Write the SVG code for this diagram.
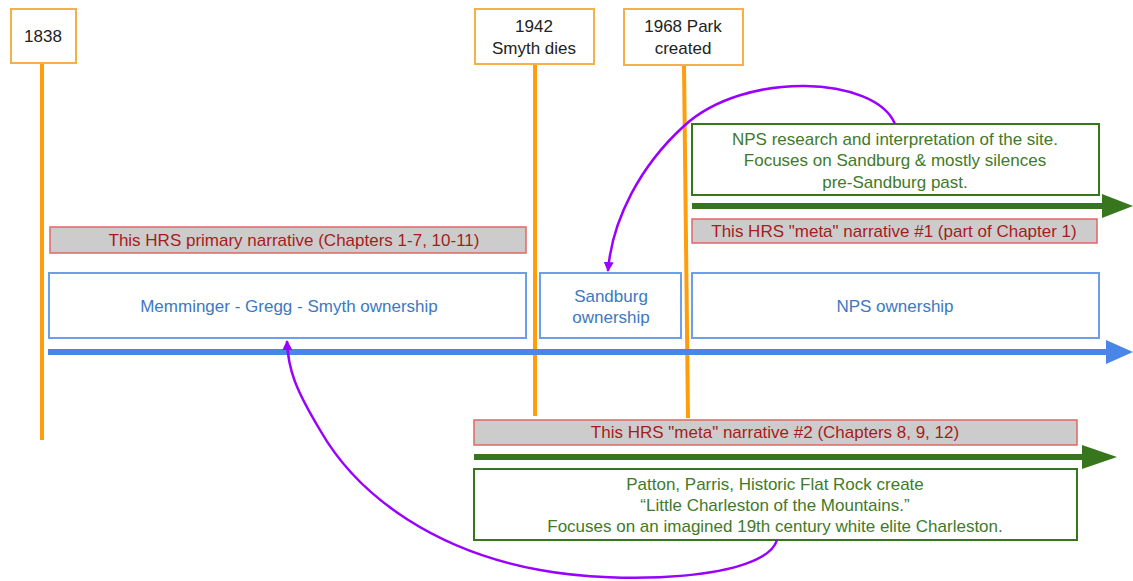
<svg xmlns="http://www.w3.org/2000/svg" width="1133" height="581" viewBox="0 0 1133 581">
<defs>
<style>
text{font-family:"Liberation Sans",Arial,sans-serif;font-size:17px;text-anchor:middle}
.yr{fill:#fff;stroke:#f6b04a;stroke-width:2}
.yt{fill:#222}
.vl{stroke:#ff9d0a;stroke-width:4}
.own{fill:#fff;stroke:#6d9eeb;stroke-width:2}
.ot{fill:#3d78c2}
.nar{fill:#cccccc;stroke:#e06666;stroke-width:1.5}
.nt{fill:#a61c1c}
.gb{fill:#fff;stroke:#38761d;stroke-width:2}
.gt{fill:#3f7a2a}
.pc{fill:none;stroke:#9900ff;stroke-width:2.5}
</style>
<marker id="ap" viewBox="0 0 10 10" refX="9" refY="5" markerWidth="4" markerHeight="4" orient="auto-start-reverse"><path d="M0,0L10,5L0,10z" fill="#9900ff"/></marker>
</defs>
<rect width="1133" height="581" fill="#fff"/>
<g id="connectors">
<line class="vl" x1="42" y1="63" x2="42" y2="440"/>
<line class="vl" x1="535" y1="64" x2="535" y2="416"/>
<line class="vl" x1="684" y1="65" x2="688" y2="418"/>
<line x1="48" y1="352" x2="1108" y2="352" stroke="#4a86e8" stroke-width="6"/>
<path d="M1106,340L1133,352L1106,364z" fill="#4a86e8"/>
<line x1="692" y1="206" x2="1104" y2="206" stroke="#38761d" stroke-width="6"/>
<path d="M1102,194L1133,206L1102,218z" fill="#38761d"/>
<line x1="474" y1="457" x2="1084" y2="457" stroke="#38761d" stroke-width="6"/>
<path d="M1082,445L1117,457L1082,469z" fill="#38761d"/>
</g>
<g id="y1838"><rect class="yr" x="11" y="9" width="65" height="54"/><text class="yt" x="43" y="42">1838</text></g>
<g id="y1942"><rect class="yr" x="475" y="9" width="119" height="55"/><text class="yt" x="534" y="32">1942</text><text class="yt" x="534" y="54">Smyth dies</text></g>
<g id="y1968"><rect class="yr" x="624" y="9" width="119" height="56"/><text class="yt" x="683" y="32">1968 Park</text><text class="yt" x="683" y="54">created</text></g>
<g id="npsResearch"><rect class="gb" x="692" y="124" width="407" height="71"/><text class="gt" x="895" y="145">NPS research and interpretation of the site.</text><text class="gt" x="895" y="166">Focuses on Sandburg &amp; mostly silences</text><text class="gt" x="895" y="188">pre-Sandburg past.</text></g>
<g id="meta1"><rect class="nar" x="692" y="219" width="405" height="24"/><text class="nt" x="894" y="237">This HRS "meta" narrative #1 (part of Chapter 1)</text></g>
<g id="primary"><rect class="nar" x="50" y="227" width="476" height="26"/><text class="nt" x="294" y="246">This HRS primary narrative (Chapters 1-7, 10-11)</text></g>
<g id="memminger"><rect class="own" x="49" y="273" width="477" height="65"/><text class="ot" x="289" y="312">Memminger - Gregg - Smyth ownership</text></g>
<g id="sandburg"><rect class="own" x="540" y="273" width="141" height="65"/><text class="ot" x="611" y="302">Sandburg</text><text class="ot" x="611" y="323">ownership</text></g>
<g id="npsOwn"><rect class="own" x="692" y="273" width="407" height="65"/><text class="ot" x="895" y="312">NPS ownership</text></g>
<g id="meta2"><rect class="nar" x="474" y="420" width="603" height="25"/><text class="nt" x="775" y="438">This HRS "meta" narrative #2 (Chapters 8, 9, 12)</text></g>
<g id="patton"><rect class="gb" x="474" y="469" width="603" height="71"/><text class="gt" x="775" y="490">Patton, Parris, Historic Flat Rock create</text><text class="gt" x="775" y="511">“Little Charleston of the Mountains.”</text><text class="gt" x="775" y="532">Focuses on an imagined 19th century white elite Charleston.</text></g>
<g id="curves">
<path class="pc" marker-end="url(#ap)" d="M895,124C875,76 745,70 684,126C640,166 612,220 608,271"/>
<path class="pc" marker-end="url(#ap)" d="M777,540C765,580 620,585 540,570C440,552 360,500 320,430C296,390 288,370 287,341"/>
</g>
</svg>
